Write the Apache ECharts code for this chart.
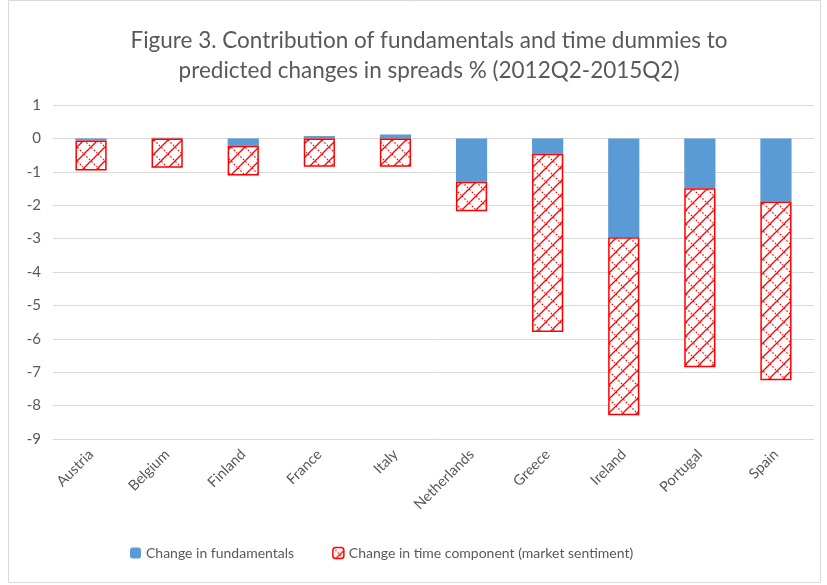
<!DOCTYPE html>
<html>
<head>
<meta charset="utf-8">
<script src="https://cdn.jsdelivr.net/npm/echarts@6/dist/echarts.min.js"></script>
<style>
  html, body { margin: 0; padding: 0; background: #fff; }
  #chart { width: 827px; height: 585px; }
</style>
</head>
<body>
<div id="chart"></div>
<script>
  var countries = ['Austria', 'Belgium', 'Finland', 'France', 'Italy', 'Netherlands', 'Greece', 'Ireland', 'Portugal', 'Spain'];
  var fundamentals = [-0.06, 0.02, -0.22, 0.07, 0.12, -1.3, -0.46, -2.96, -1.49, -1.89];
  var timeComponent = [-0.9, -0.88, -0.89, -0.85, -0.85, -0.88, -5.34, -5.33, -5.36, -5.35];
  var yTicks = [1, 0, -1, -2, -3, -4, -5, -6, -7, -8, -9];

  // red hatch fill like the excel pattern
  function makeHatch() {
    var c = document.createElement('canvas');
    c.width = 14;
    c.height = 14;
    var ctx = c.getContext('2d');
    ctx.fillStyle = '#fff';
    ctx.fillRect(0, 0, 14, 14);
    ctx.strokeStyle = '#ff0000';
    ctx.lineWidth = 1.3;
    ctx.beginPath();
    ctx.moveTo(-1, 15); ctx.lineTo(15, -1);
    ctx.stroke();
    ctx.lineWidth = 1.2;
    ctx.setLineDash([1.5, 2]);
    ctx.beginPath();
    ctx.moveTo(0, 0); ctx.lineTo(14, 14);
    ctx.stroke();
    return c;
  }

  var myChart = echarts.init(document.getElementById('chart'));
  var hatch = { image: makeHatch(), repeat: 'repeat' };

  var option = {
    animation: false,
    textStyle: { fontFamily: 'Lato' },
    title: {
      text: 'Figure 3. Contribution of fundamentals and time dummies to\npredicted changes in spreads % (2012Q2-2015Q2)',
      left: 424,
      textAlign: 'center',
      top: 21,
      textStyle: { fontFamily: 'Lato', fontSize: 22.5, fontWeight: 'normal', color: '#595959', lineHeight: 30 }
    },
    graphic: [{
      type: 'rect',
      shape: { x: 8.5, y: 0.5, width: 812, height: 582 },
      style: { fill: 'none', stroke: '#d9d9d9', lineWidth: 1 },
      silent: true
    }],
    legend: {
      bottom: 20,
      left: 125,
      itemWidth: 11,
      itemHeight: 11,
      itemGap: 38,
      textStyle: { fontSize: 14, color: '#595959' },
      data: [
        { name: 'Change in fundamentals' },
        { name: 'Change in time component (market sentiment)', itemStyle: { color: hatch, borderColor: '#ff0000', borderWidth: 1.5 } }
      ]
    },
    grid: { left: 53, right: 13, top: 105, bottom: 146 },
    xAxis: {
      type: 'category',
      data: countries,
      axisLine: { show: false },
      axisTick: { show: false },
      axisLabel: { rotate: 45, fontSize: 14.5, color: '#595959', margin: 13, interval: 0 }
    },
    yAxis: {
      type: 'value',
      min: -9,
      max: 1,
      interval: 1,
      axisLine: { show: false },
      axisTick: { show: false },
      axisLabel: { fontSize: 15, color: '#595959', margin: 12 },
      splitLine: { lineStyle: { color: '#d9d9d9', width: 1 } }
    },
    series: [{
      name: 'Change in fundamentals',
      type: 'bar',
      stack: 'total',
      barWidth: '41%',
      itemStyle: { color: '#5b9bd5' },
      data: fundamentals
    }, {
      name: 'Change in time component (market sentiment)',
      type: 'bar',
      stack: 'total',
      barWidth: '41%',
      itemStyle: { color: hatch, borderColor: '#ff0000', borderWidth: 1.5 },
      data: timeComponent
    }]
  };

  myChart.setOption(option);
</script>
</body>
</html>
